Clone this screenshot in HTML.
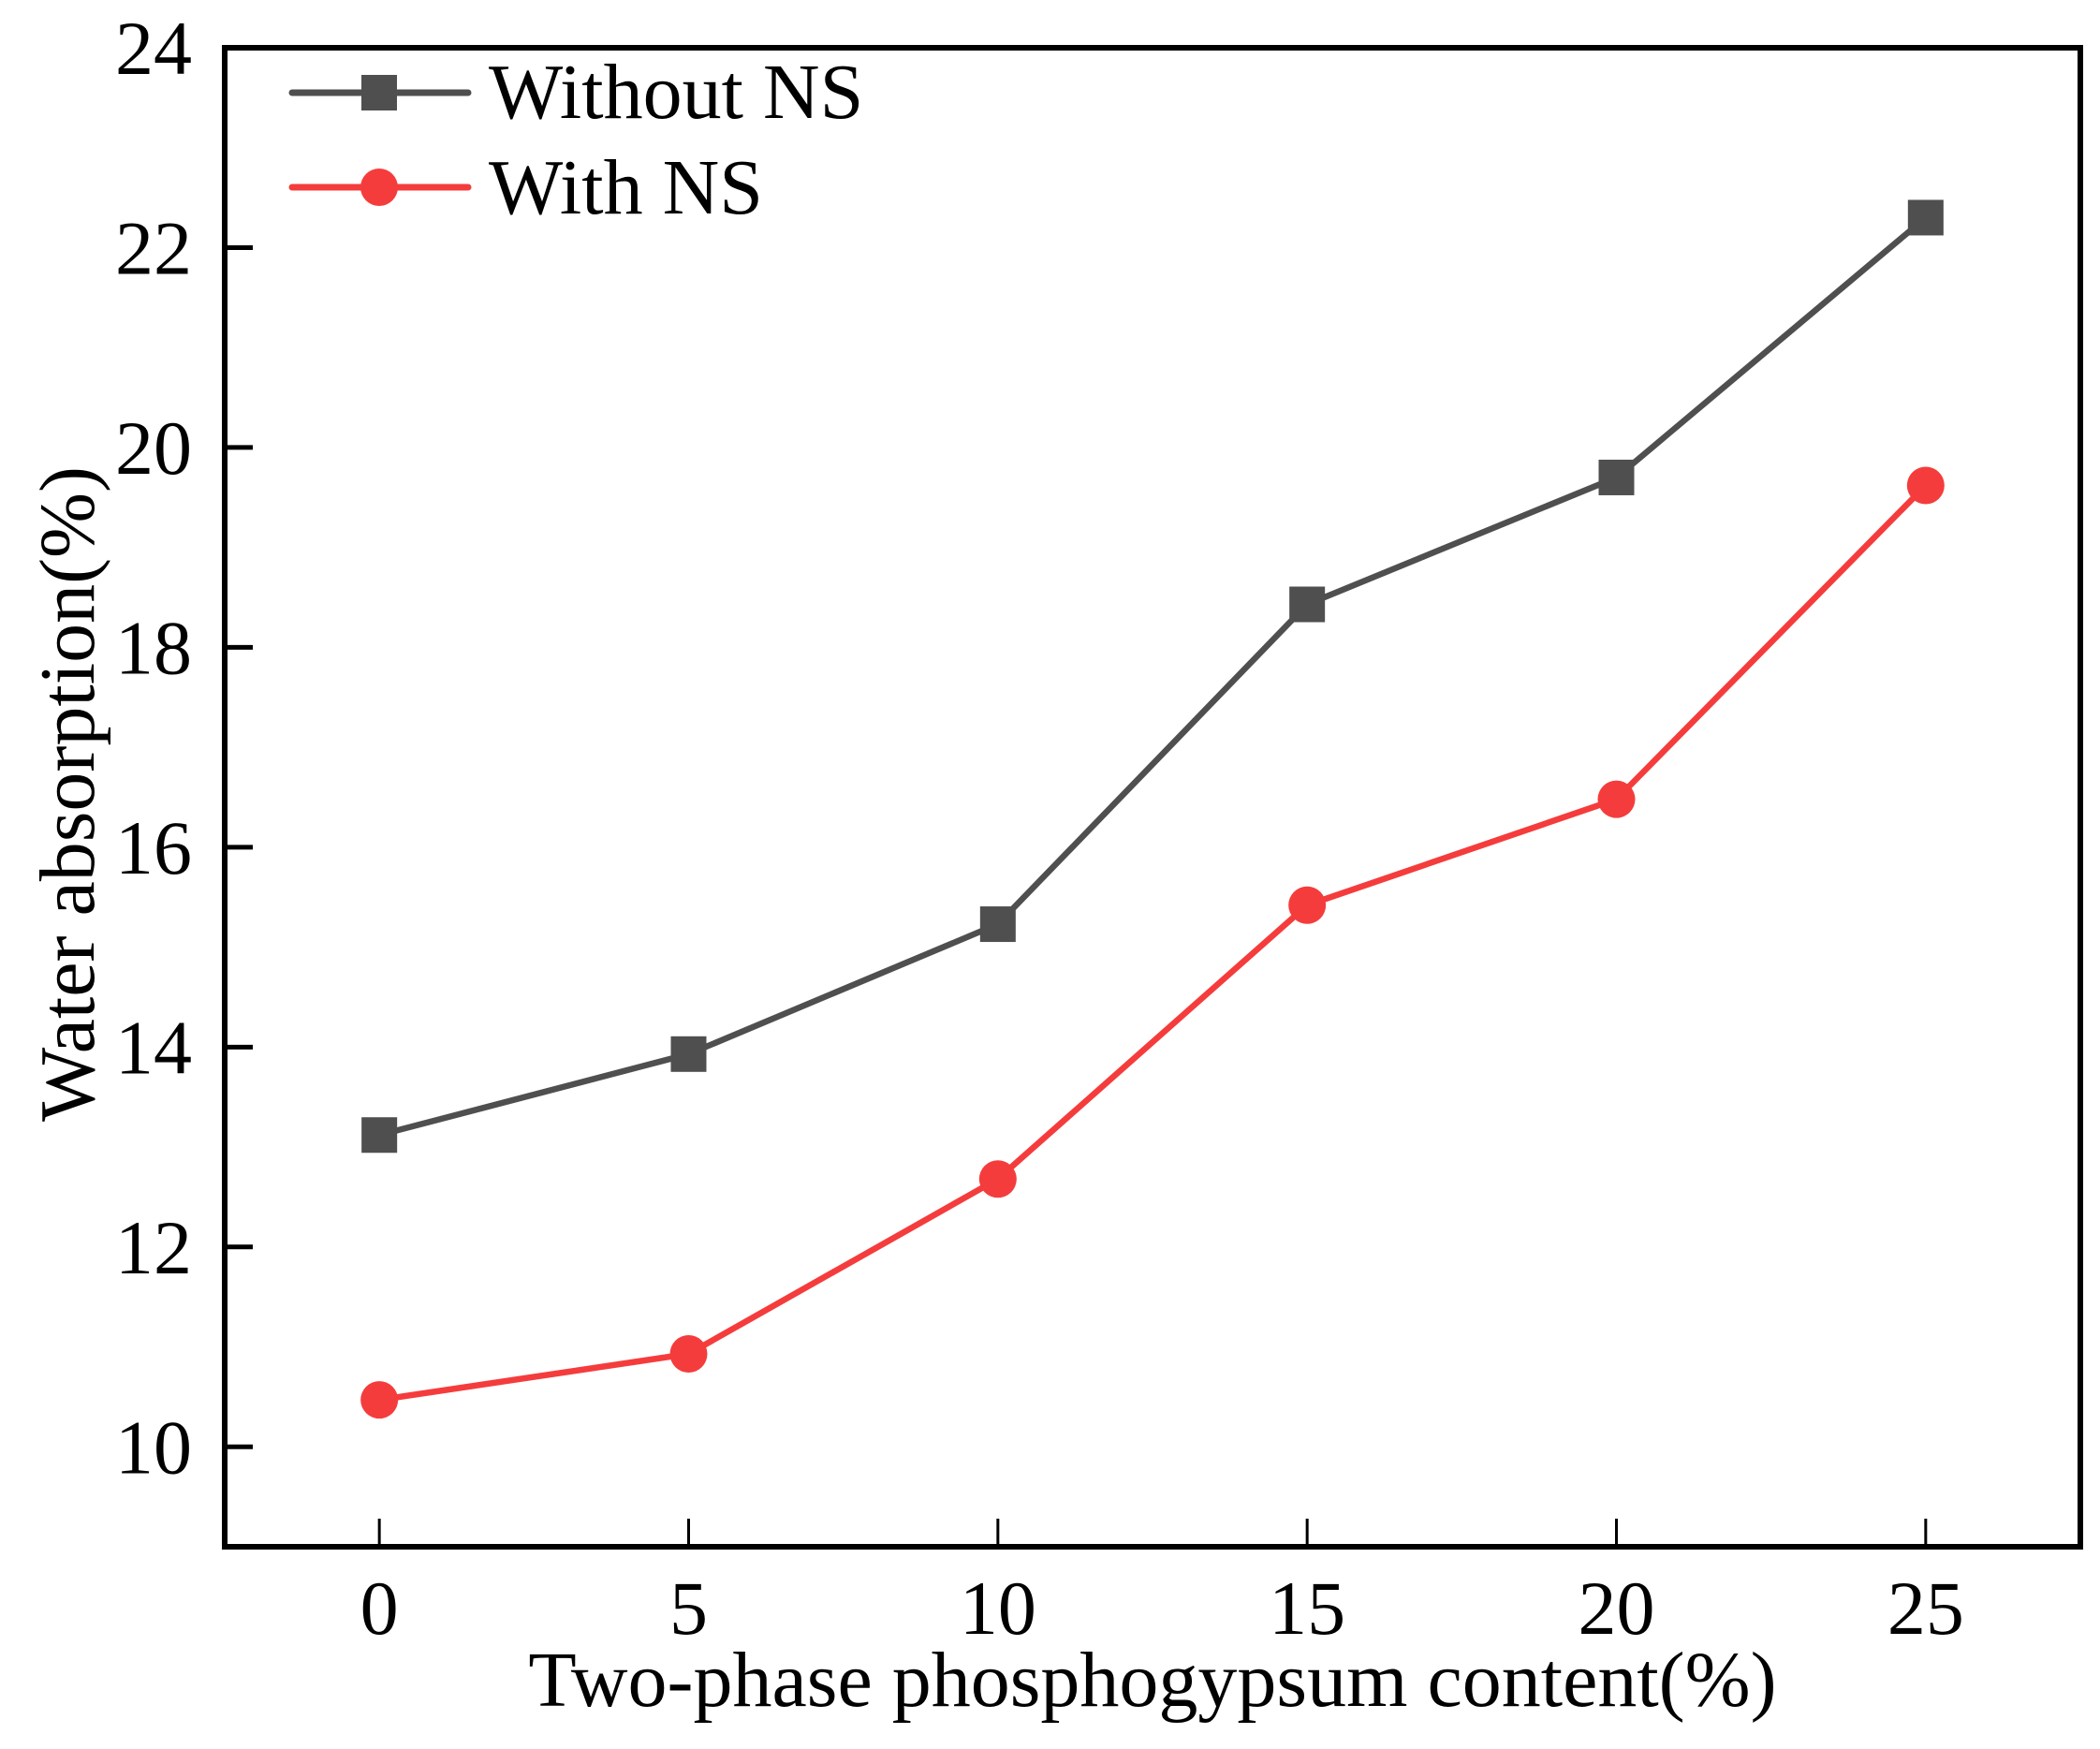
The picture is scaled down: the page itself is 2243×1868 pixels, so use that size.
<!DOCTYPE html>
<html><head><meta charset="utf-8"><style>
html,body{margin:0;padding:0;background:#fff;}
svg{display:block;font-family:"Liberation Serif","Times New Roman",serif;}
</style></head><body>
<svg id="chart" width="2243" height="1868" viewBox="0 0 2243 1868" xmlns="http://www.w3.org/2000/svg">
<rect x="0" y="0" width="2243" height="1868" fill="#fff"/>
<g id="plot"></g>
</svg>
<script>
const categories = [0, 5, 10, 15, 20, 25];
const withoutNS = [13.12, 13.93, 15.23, 18.43, 19.70, 22.30];
const withNS = [10.47, 10.93, 12.68, 15.42, 16.48, 19.62];
const yTicks = [10, 12, 14, 16, 18, 20, 22, 24];
const xTicks = [0, 5, 10, 15, 20, 25];

const NS = 'http://www.w3.org/2000/svg';
const L = 240, R = 2222, T = 51, B = 1652;
const xMin = -2.5, xMax = 27.5, yMin = 9, yMax = 24;
function xs(v){ return L + (v - xMin) / (xMax - xMin) * (R - L); }
function ys(v){ return B - (v - yMin) / (yMax - yMin) * (B - T); }
const g = document.getElementById('plot');
function mk(tag, attrs, parent){
  const e = document.createElementNS(NS, tag);
  for (const k in attrs) e.setAttribute(k, attrs[k]);
  (parent || g).appendChild(e);
  return e;
}

yTicks.forEach(v => {
  const t = mk('line', {x1: L, x2: L + 30, y1: ys(v), y2: ys(v), stroke: '#000', 'stroke-width': 5});
  
  
  const lb = mk('text', {x: 205, y: ys(v) + 28, 'text-anchor': 'end', 'font-size': 82, fill: '#000'});
  lb.textContent = v;
  
  
});
xTicks.forEach(v => {
  const t = mk('line', {x1: xs(v), x2: xs(v), y1: B, y2: B - 30, stroke: '#000', 'stroke-width': 3});
  
  
  const lb = mk('text', {x: xs(v), y: 1745, 'text-anchor': 'middle', 'font-size': 82, fill: '#000'});
  lb.textContent = v;
  
  
});

const frame = mk('rect', {x: L, y: T, width: R - L, height: B - T, fill: 'none', stroke: '#000', 'stroke-width': 6});



function series(vals, color, marker, name){
  const pts = vals.map((v, i) => xs(categories[i]) + ',' + ys(v)).join(' ');
  const pl = mk('polyline', {points: pts, fill: 'none', stroke: color, 'stroke-width': 6.5, 'stroke-linejoin': 'round'});
  
  
  vals.forEach((v, i) => {
    let m;
    if (marker === 'square') m = mk('rect', {x: xs(categories[i]) - 19, y: ys(v) - 19, width: 38, height: 38, fill: color});
    else m = mk('circle', {cx: xs(categories[i]), cy: ys(v), r: 20, fill: color});
    
    
  });
}
series(withoutNS, '#4f4f4f', 'square', 'without-ns');
series(withNS, '#f53c3c', 'circle', 'with-ns');

const lg1 = mk('line', {x1: 312, x2: 500, y1: 99, y2: 99, stroke: '#4f4f4f', 'stroke-width': 7, 'stroke-linecap': 'round'});


const lm1 = mk('rect', {x: 386, y: 80, width: 38, height: 38, fill: '#4f4f4f'});


const lt1 = mk('text', {x: 522, y: 126, 'font-size': 84, fill: '#000'});
lt1.textContent = 'Without NS';


const lg2 = mk('line', {x1: 312, x2: 500, y1: 200, y2: 200, stroke: '#f53c3c', 'stroke-width': 7, 'stroke-linecap': 'round'});


const lm2 = mk('circle', {cx: 405, cy: 200, r: 20, fill: '#f53c3c'});


const lt2 = mk('text', {x: 522, y: 228, 'font-size': 84, fill: '#000'});
lt2.textContent = 'With NS';



const xt = mk('text', {x: 1231, y: 1822, 'text-anchor': 'middle', 'font-size': 84, fill: '#000'});
xt.textContent = 'Two-phase phosphogypsum content(%)';


const yt = mk('text', {x: 0, y: 0, 'text-anchor': 'middle', 'font-size': 84, fill: '#000', transform: 'translate(100,848) rotate(-90)'});
yt.textContent = 'Water absorption(%)';


</script>
</body></html>
